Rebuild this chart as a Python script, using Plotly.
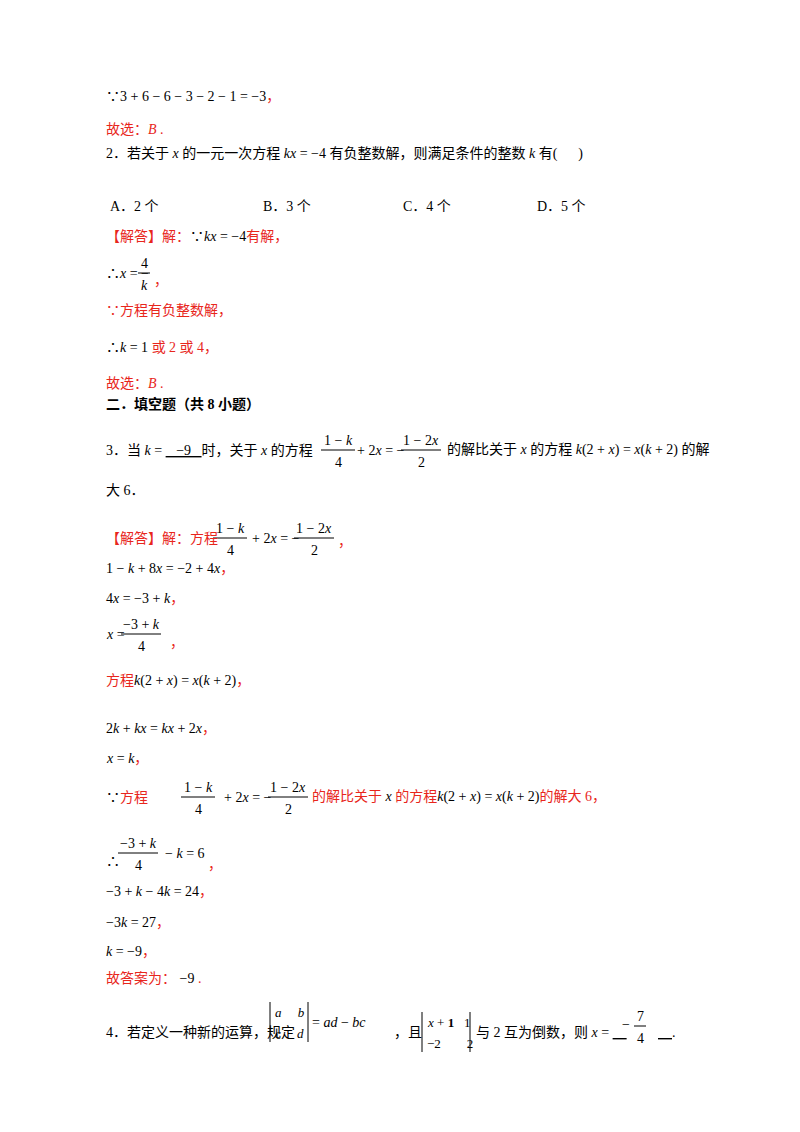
import plotly.graph_objects as go

R = "#e8261c"
K = "#000000"
FONT = "Liberation Serif, Noto Sans CJK SC"

def r(t):
    return f'<span style="color:{R}">{t}</span>'

# line pieces: text (with inline colour), left x, centre y
pieces = [
    ("∵3 + 6 − 6 − 3 − 2 − 1 = −3" + r("，"), 96, 88),
    (r("故选：<i>B</i> ."), 96, 121),
    ("2．若关于 <i>x</i> 的一元一次方程 <i>kx</i> = −4 有负整数解，则满足条件的整数 <i>k</i> 有(      )", 96, 145),
    ("A．2 个", 100, 198), ("B．3 个", 253, 198), ("C．4 个", 393, 198), ("D．5 个", 527, 198),
    (r("【解答】解：") + "∵<i>kx</i> = −4" + r("有解，"), 96, 228),
    ("∴<i>x</i> = −", 96, 265), (r("，"), 144, 272),
    (r("∵方程有负整数解，"), 96, 302),
    ("∴<i>k</i> = 1 " + r("或 2 或 4，"), 96, 339),
    (r("故选：<i>B</i> ."), 96, 375),
    ("<b>二．填空题（共 8 小题）</b>", 96, 396),
    ("3．当 <i>k</i> = <u>   −9   </u>时，关于 <i>x</i> 的方程", 96, 442),
    ("+ 2<i>x</i> = −", 347, 442),
    ("的解比关于 <i>x</i> 的方程 <i>k</i>(2 + <i>x</i>) = <i>x</i>(<i>k</i> + 2) 的解", 437, 442),
    ("大 6．", 96, 482),
    (r("【解答】解：方程"), 96, 530), ("+ 2<i>x</i> = −", 242, 530), (r("，"), 328, 533),
    ("1 − <i>k</i> + 8<i>x</i> = −2 + 4<i>x</i>" + r("，"), 96, 560),
    ("4<i>x</i> = −3 + <i>k</i>" + r("，"), 96, 590),
    ("<i>x</i> =", 96, 626), (r("，"), 160, 634),
    (r("方程") + "<i>k</i>(2 + <i>x</i>) = <i>x</i>(<i>k</i> + 2)" + r("，"), 96, 673),
    ("2<i>k</i> + <i>kx</i> = <i>kx</i> + 2<i>x</i>" + r("，"), 96, 720),
    ("<i>x</i> = <i>k</i>" + r("，"), 96, 750),
    ("∵" + r("方程"), 96, 789), ("+ 2<i>x</i> = −", 214, 789),
    (r("的解比关于") + " <i>x</i> " + r("的方程") + "<i>k</i>(2 + <i>x</i>) = <i>x</i>(<i>k</i> + 2)" + r("的解大 6，"), 302, 789),
    ("∴", 96, 853), ("− <i>k</i> = 6", 155, 845), (r("，"), 198, 856),
    ("−3 + <i>k</i> − 4<i>k</i> = 24" + r("，"), 96, 883),
    ("−3<i>k</i> = 27" + r("，"), 96, 914),
    ("<i>k</i> = −9" + r("，"), 96, 943),
    (r("故答案为：") + " −9" + r(" ."), 96, 970),
    ("4．若定义一种新的运算，规定", 96, 1024), ("= <i>ad</i> − <i>bc</i>", 302, 1014),
    ("，且", 384, 1024), ("与 2 互为倒数，则 <i>x</i> = <u>    </u>", 466, 1024),
    ("−", 612, 1016), ("<u>    </u>.", 648, 1024),
]
# fractions: numerator, denominator, centre x, bar y, bar width
fracs = [("4", "<i>k</i>", 136, 265, 12), ("1 − <i>k</i>", "4", 330, 442, 34), ("1 − 2<i>x</i>", "2", 413, 442, 40),
         ("1 − <i>k</i>", "4", 222, 530, 34), ("1 − 2<i>x</i>", "2", 306, 530, 40), ("−3 + <i>k</i>", "4", 133, 626, 40),
         ("1 − <i>k</i>", "4", 190, 789, 34), ("1 − 2<i>x</i>", "2", 280, 789, 40),
         ("−3 + <i>k</i>", "4", 130, 845, 40), ("7", "4", 632, 1018, 12)]
# determinants: row 1, row 2, left x, centre y, width
dets = [("<i>a</i>     <i>b</i>", "<i>c</i>     <i>d</i>", 262, 1014, 38),
        ("<i>x</i> + <b>1</b>   1", "−2        2", 414, 1024, 48)]

ann, shapes = [], []
for t, x, y in pieces:
    ann.append(dict(x=x, y=y, text=t, showarrow=False, xanchor="left", yanchor="middle",
                    font=dict(family=FONT, size=14, color=K)))
for n, d, cx, ly, w in fracs:
    ann.append(dict(x=cx, y=ly - 10, text=n, showarrow=False, font=dict(family=FONT, size=14, color=K)))
    ann.append(dict(x=cx, y=ly + 12, text=d, showarrow=False, font=dict(family=FONT, size=14, color=K)))
    shapes.append(dict(type="line", x0=cx - w / 2, x1=cx + w / 2, y0=ly, y1=ly, line=dict(color=K, width=1)))
for r1, r2, lx, cy, w in dets:
    ann.append(dict(x=lx + 3, y=cy - 10, text=r1, showarrow=False, xanchor="left", font=dict(family=FONT, size=13, color=K)))
    ann.append(dict(x=lx + 3, y=cy + 11, text=r2, showarrow=False, xanchor="left", font=dict(family=FONT, size=13, color=K)))
    for xx in (lx, lx + w):
        shapes.append(dict(type="line", x0=xx, x1=xx, y0=cy - 20, y1=cy + 20, line=dict(color=K, width=1)))

fig = go.Figure()
fig.update_layout(width=800, height=1132, margin=dict(l=0, r=0, t=0, b=0),
                  paper_bgcolor="white", plot_bgcolor="white",
                  xaxis=dict(range=[0, 800], visible=False, fixedrange=True),
                  yaxis=dict(range=[1132, 0], visible=False, fixedrange=True),
                  annotations=ann, shapes=shapes, showlegend=False)
fig.write_html("out.html")
